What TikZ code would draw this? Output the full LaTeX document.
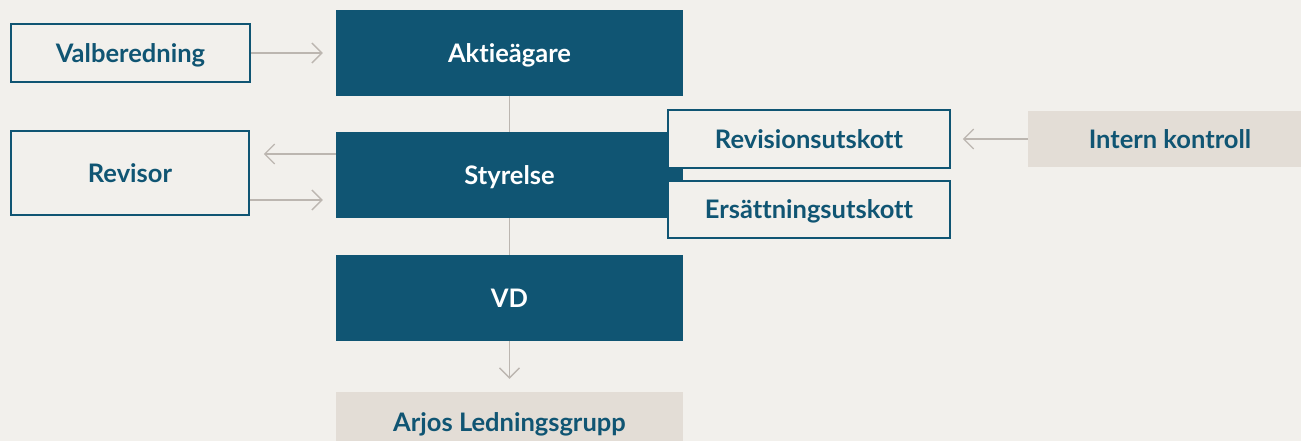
\documentclass[tikz,border=0pt]{standalone}
\usepackage{fontspec}
\setmainfont{Lato}[Ligatures=NoCommon]
\usetikzlibrary{arrows.meta}
\definecolor{bg}{RGB}{242,240,236}
\definecolor{navy}{RGB}{16,85,115}
\definecolor{beige}{RGB}{227,221,214}
\definecolor{arrowgray}{RGB}{188,182,176}
\tikzset{
  base/.style={inner sep=0pt, font=\fontsize{25.5}{28}\selectfont\bfseries, text height=18.3pt, text depth=0pt},
  darkbox/.style={base, fill=navy, text=white, minimum width=347pt, minimum height=86pt},
  outlinebox/.style={base, fill=bg, draw=navy, line width=1.5pt, text=navy},
  beigebox/.style={base, fill=beige, text=navy},
  conn/.style={draw=arrowgray, line width=1.3pt},
  arr/.style={conn, -{Straight Barb[length=10pt,width=20pt,line width=1.3pt]}},
}
\begin{document}
\begin{tikzpicture}[x=1pt,y=-1pt]
\fill[bg] (0,0) rectangle (1301,441);
\useasboundingbox (0,0) rectangle (1301,441);
\begin{scope}
\clip (0,0) rectangle (1301,441);
\node[outlinebox, minimum width=239pt, minimum height=58pt] (valb) at (130.5,53) {Valberedning};
\node[outlinebox, minimum width=238pt, minimum height=84pt] (revisor) at (130,173) {Revisor};
\node[darkbox] (aktie) at (509.5,53) {Aktieägare};
\node[darkbox] (styr) at (509.5,175) {Styrelse};
\node[darkbox] (vd) at (509.5,298) {VD};
\node[beigebox, minimum width=347pt, minimum height=60pt] (arjos) at (509.5,422) {Arjos Ledningsgrupp};
\node[outlinebox, minimum width=282pt, minimum height=58pt] (revu) at (809,139) {Revisionsutskott};
\node[outlinebox, minimum width=282pt, minimum height=57pt] (ers) at (809,209.5) {Ersättningsutskott};
\node[beigebox, minimum width=284pt, minimum height=56pt] (intern) at (1170,139) {Intern kontroll};
\end{scope}
\draw[arr, shorten >=13pt] (valb.east) -- (aktie.west |- valb.east);
\draw[arr, shorten >=14pt] (styr.west |- 0,154) -- (revisor.east |- 0,154);
\draw[arr, shorten >=13pt] (revisor.east |- 0,200) -- (styr.west |- 0,200);
\draw[arr, shorten >=12pt] (intern.west) -- (revu.east);
\draw[conn] (aktie.south) -- (styr.north);
\draw[conn] (styr.south) -- (vd.north);
\draw[arr, shorten >=13pt] (vd.south) -- (vd.south |- arjos.north);
\end{tikzpicture}
\end{document}
